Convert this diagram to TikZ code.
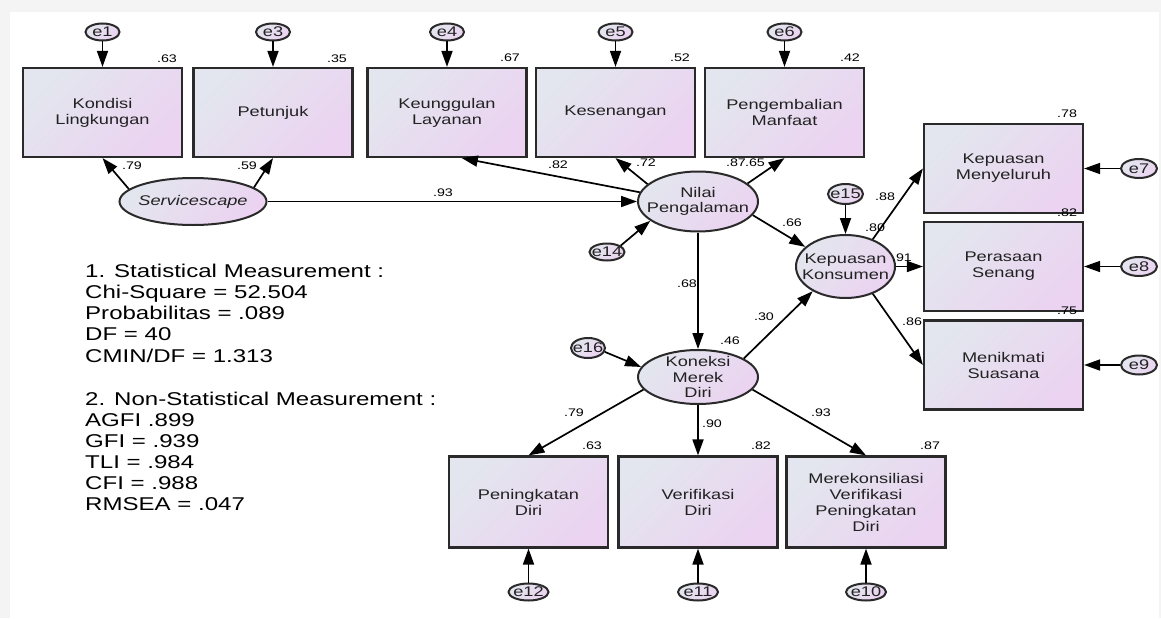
\documentclass[tikz,border=0pt]{standalone}
\usepackage{fontspec}
\newfontfamily\amos{Liberation Sans}[FakeStretch=1.3]
\usetikzlibrary{arrows.meta,shapes.geometric}
\definecolor{ca}{HTML}{E3E6EE}
\definecolor{cb}{HTML}{EBD3F1}
\definecolor{bd}{HTML}{2A2A2A}
\definecolor{tx}{HTML}{222222}
\definecolor{frame}{HTML}{F4F4F4}
\begin{document}
\begin{tikzpicture}[x=1pt,y=-1pt,
  grad/.style={top color=ca,bottom color=cb,shading angle=45},
  obs/.style={draw=bd,line width=2.2pt,grad,minimum width=159pt,minimum height=89pt,inner sep=0pt,align=center,font=\amos\fontsize{14}{16}\selectfont,text=tx},
  lat/.style={ellipse,draw=bd,line width=2pt,grad,inner sep=0pt},
  ltext/.style={align=center,font=\amos\fontsize{14}{15.5}\selectfont,text=tx,inner sep=0pt},
  err/.style={ellipse,draw=bd,line width=2pt,grad,inner sep=0pt,minimum width=34pt,minimum height=17pt},
  etext/.style={font=\amos\fontsize{14}{16}\selectfont,text=tx,inner sep=0pt},
  arr/.style={line width=1.7pt,draw=black,-{Triangle[length=16pt,width=11pt]}},
  num/.style={font=\amos\fontsize{11}{13}\selectfont,inner sep=0pt,text=black},
  stat/.style={font=\amos\fontsize{18.5}{21}\selectfont,anchor=base west,inner sep=0pt,text=black}
]
\useasboundingbox (0,0) rectangle (1161,618);
\fill[frame] (0,0) rectangle (1161,618);
\fill[white] (10,12) rectangle (1159,618);

% observed boxes
\node[obs] (kondisi) at (102.5,112.5) {Kondisi\\Lingkungan};
\node[obs] (petunjuk) at (273,112.5) {Petunjuk};
\node[obs] (keung) at (447,112.5) {Keunggulan\\Layanan};
\node[obs] (kesen) at (615.5,112.5) {Kesenangan};
\node[obs] (pengem) at (784.5,112.5) {Pengembalian\\Manfaat};
\node[obs] (menyel) at (1003.5,168.5) {Kepuasan\\Menyeluruh};
\node[obs] (perasaan) at (1003.5,266.5) {Perasaan\\Senang};
\node[obs] (menik) at (1003.5,365) {Menikmati\\Suasana};
\node[obs,minimum height=91pt] (pening) at (528.5,502) {Peningkatan\\Diri};
\node[obs,minimum height=91pt] (verif) at (698,502) {Verifikasi\\Diri};
\node[obs,minimum height=91pt] (merek) at (866,502) {Merekonsiliasi\\Verifikasi\\Peningkatan\\Diri};

% latent variables
\node[lat,minimum width=147pt,minimum height=47pt,label={[ltext,font=\amos\itshape\fontsize{14}{16}\selectfont]center:Servicescape}] (serv) at (193,201.5) {};
\node[lat,minimum width=120pt,minimum height=60pt,label={[ltext]center:{Nilai\\Pengalaman}}] (nilai) at (698,201.5) {};
\node[lat,minimum width=99pt,minimum height=63pt,label={[ltext]center:{Kepuasan\\Konsumen}}] (kep) at (845.5,266.5) {};
\node[lat,minimum width=120pt,minimum height=54pt,label={[ltext]center:{Koneksi\\Merek\\Diri}}] (kon) at (698,377) {};

% error terms
\node[err,label={[etext]center:e1}] (e1) at (102.5,32) {};
\node[err,label={[etext]center:e3}] (e3) at (273,32) {};
\node[err,label={[etext]center:e4}] (e4) at (447,32) {};
\node[err,label={[etext]center:e5}] (e5) at (615.5,32) {};
\node[err,label={[etext]center:e6}] (e6) at (784.5,32) {};
\node[err,minimum width=36pt,minimum height=19pt,label={[etext]center:e7}] (e7) at (1139,168.5) {};
\node[err,minimum width=36pt,minimum height=19pt,label={[etext]center:e8}] (e8) at (1139,266.5) {};
\node[err,minimum width=36pt,minimum height=19pt,label={[etext]center:e9}] (e9) at (1139,365) {};
\node[err,minimum width=40pt,label={[etext]center:e10}] (e10) at (866,592) {};
\node[err,minimum width=40pt,label={[etext]center:e11}] (e11) at (698,592) {};
\node[err,minimum width=40pt,label={[etext]center:e12}] (e12) at (528.5,592) {};
\node[err,minimum width=35pt,label={[etext]center:e14}] (e14) at (607,252) {};
\node[err,minimum width=35pt,minimum height=20pt,label={[etext]center:e15}] (e15) at (845.5,194) {};
\node[err,minimum width=34pt,minimum height=20pt,label={[etext]center:e16}] (e16) at (588,348) {};

% arrows
\draw[arr] (e1) -- (kondisi);
\draw[arr] (e3) -- (petunjuk);
\draw[arr] (e4) -- (keung);
\draw[arr] (e5) -- (kesen);
\draw[arr] (e6) -- (pengem);
\draw[arr] (e7) -- (menyel);
\draw[arr] (e8) -- (perasaan);
\draw[arr] (e9) -- (menik);
\draw[arr] (e10) -- (merek);
\draw[arr] (e11) -- (verif);
\draw[arr] (e12) -- (pening);
\draw[arr] (e15) -- (kep);
\draw[arr] (e14.25) -- (nilai.-158);
\draw[arr] (e16.-13) -- (kon.170);
\draw[arr] (serv.169) -- (kondisi.south);
\draw[arr] (serv.13) -- (petunjuk.south);
\draw[arr] (serv) -- (nilai);
\draw[arr] (nilai.171) -- (keung.-72);
\draw[arr] (nilai.161) -- (kesen.south);
\draw[arr] (nilai.20) -- (pengem.south);
\draw[arr] (nilai.-14) -- (kep.154);
\draw[arr] (nilai) -- (kon);
\draw[arr] (kon.22) -- (kep.217);
\draw[arr] (kep.45) -- (menyel.west);
\draw[arr] (kep) -- (perasaan);
\draw[arr] (kep.-45) -- (menik.west);
\draw[arr] (kon.193) -- (pening.north);
\draw[arr] (kon) -- (verif);
\draw[arr] (kon.-13) -- (merek.north);

% coefficient labels
\node[num] (n1) at (167,59) {.63};
\node[num] (n2) at (337,59) {.35};
\node[num] (n3) at (510,57.5) {.67};
\node[num] (n4) at (680,57.5) {.52};
\node[num] (n5) at (850,57.5) {.42};
\node[num] (n6) at (132,166) {.79};
\node[num] (n7) at (247,166) {.59};
\node[num] (n8) at (558,165) {.82};
\node[num] (n9) at (646,162.5) {.72};
\node[num] (n10) at (736,163) {.87};
\node[num] (n11) at (755,163) {.65};
\node[num] (n12) at (443,193) {.93};
\node[num] (n13) at (792,223) {.66};
\node[num] (n14) at (885,197) {.88};
\node[num] (n15) at (875,227.5) {.80};
\node[num] (n16) at (902,257.5) {.91};
\node[num] (n17) at (912,322) {.86};
\node[num] (n18) at (1067,114) {.78};
\node[num] (n19) at (1067,213) {.82};
\node[num] (n20) at (1067,311) {.75};
\node[num] (n21) at (687,283.5) {.68};
\node[num] (n22) at (730,341) {.46};
\node[num] (n23) at (764,317) {.30};
\node[num] (n24) at (574,413) {.79};
\node[num] (n25) at (712,424) {.90};
\node[num] (n26) at (821,413) {.93};
\node[num] (n27) at (592,445.5) {.63};
\node[num] (n28) at (761,445.5) {.82};
\node[num] (n29) at (930,445.5) {.87};

% fit statistics
\node[stat] (s1) at (85,277) {1. Statistical Measurement :};
\node[stat] (s2) at (85,298.25) {Chi-Square = 52.504};
\node[stat] (s3) at (85,319.5) {Probabilitas = .089};
\node[stat] (s4) at (85,340.75) {DF = 40};
\node[stat] (s5) at (85,362) {CMIN/DF = 1.313};
\node[stat] (s6) at (85,405.5) {2. Non-Statistical Measurement :};
\node[stat] (s7) at (85,426.5) {AGFI .899};
\node[stat] (s8) at (85,447.5) {GFI = .939};
\node[stat] (s9) at (85,468.5) {TLI = .984};
\node[stat] (s10) at (85,489.5) {CFI = .988};
\node[stat] (s11) at (85,510.5) {RMSEA = .047};
\end{tikzpicture}
\end{document}
